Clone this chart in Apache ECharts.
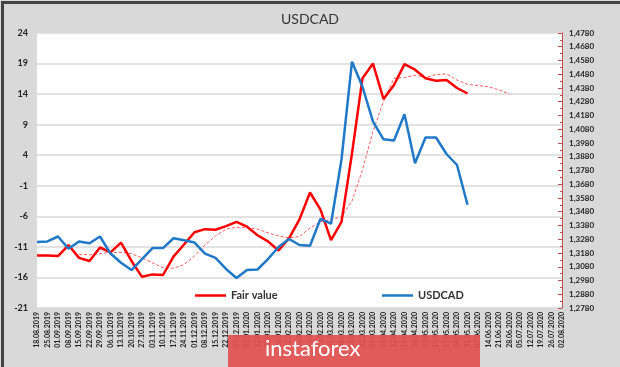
<!DOCTYPE html>
<html>
<head>
<meta charset="utf-8">
<script src="https://cdn.jsdelivr.net/npm/echarts@6/dist/echarts.min.js"></script>
<style>
html,body{margin:0;padding:0;background:#d9d9d9;}
#c{width:620px;height:367px;}
</style>
</head>
<body>
<div id="c"></div>
<script>
const dates = ['18.08.2019','25.08.2019','01.09.2019','08.09.2019','15.09.2019','22.09.2019','29.09.2019','06.10.2019','13.10.2019','20.10.2019','27.10.2019','03.11.2019','10.11.2019','17.11.2019','24.11.2019','01.12.2019','08.12.2019','15.12.2019','22.12.2019','29.12.2019','05.01.2020','12.01.2020','19.01.2020','26.01.2020','02.02.2020','09.02.2020','16.02.2020','23.02.2020','01.03.2020','08.03.2020','15.03.2020','22.03.2020','29.03.2020','05.04.2020','12.04.2020','19.04.2020','26.04.2020','03.05.2020','10.05.2020','17.05.2020','24.05.2020','31.05.2020','07.06.2020','14.06.2020','21.06.2020','28.06.2020','05.07.2020','12.07.2020','19.07.2020','26.07.2020','02.08.2020'];

const fairValue = [-12.4,-12.4,-12.5,-10.7,-12.8,-13.3,-11.1,-11.9,-10.3,-13.3,-15.9,-15.5,-15.6,-12.6,-10.6,-8.6,-8.1,-8.2,-7.6,-6.9,-7.7,-9.1,-10.1,-11.6,-9.6,-6.5,-2.1,-4.9,-9.9,-6.9,4.3,16.6,19.0,13.2,15.5,18.9,18.0,16.6,16.2,16.3,15.0,14.1];

const fairValueAvg = [null,null,null,null,-12.2,-12.3,-12.1,-11.9,-11.9,-12.1,-12.8,-13.6,-14.4,-14.5,-13.9,-12.5,-10.7,-9.2,-8.1,-7.8,-7.8,-8.1,-8.7,-9.2,-9.5,-9.3,-7.9,-6.9,-6.5,-6.1,-3.5,1.6,7.9,12.8,16.6,16.7,17.1,16.7,17.2,17.3,16.3,15.6,15.4,15.2,14.7,14.0];

const usdcad = [1.3260,1.3264,1.3300,1.3211,1.3264,1.3251,1.3300,1.3176,1.3109,1.3056,1.3136,1.3216,1.3216,1.3287,1.3273,1.3256,1.3176,1.3144,1.3064,1.2998,1.3056,1.3060,1.3136,1.3224,1.3282,1.3238,1.3233,1.3429,1.3393,1.3860,1.4571,1.4389,1.4136,1.4007,1.3998,1.4189,1.3833,1.4020,1.4020,1.3900,1.3820,1.3531];

const leftMin = -21, leftMax = 24;
const rightMin = 1.2780, rightMax = 1.4780;

const shiftL = v => v == null ? null : +(v - leftMin).toFixed(4);
const shiftR = v => v == null ? null : +((v - rightMin) * 100).toFixed(4);

const FONT = 'Lato';
const legendText = {fontFamily:FONT, fontSize:11, fontWeight:'bold', color:'#333'};
const chart = echarts.init(document.getElementById('c'), null, {renderer:'canvas'});
chart.setOption({
  animation:false,
  backgroundColor:'#d9d9d9',
  textStyle:{fontFamily:FONT},
  title:{text:'USDCAD', left:'center', top:7, textStyle:{fontFamily:FONT, fontSize:14, fontWeight:'normal', color:'#333'}},
  grid:{left:37, right:58, top:33, bottom:59, show:true, backgroundColor:'#ffffff', borderWidth:0},
  legend:[
    {data:['Fair value'], left:190, top:285, icon:'rect', itemWidth:31, itemHeight:2.5, itemGap:6, textStyle:legendText},
    {data:['USDCAD'], left:377, top:285, icon:'rect', itemWidth:31, itemHeight:2.5, itemGap:6, textStyle:legendText}
  ],
  xAxis:{
    type:'category', data:dates, boundaryGap:false,
    axisLine:{show:false}, axisTick:{show:false},
    axisLabel:{interval:0, rotate:90, fontSize:7, fontWeight:'bold', color:'#222', margin:4, fontFamily:FONT}
  },
  yAxis:[
    {type:'value', min:0, max:leftMax-leftMin, interval:5,
     axisLine:{show:false}, axisTick:{show:false},
     splitLine:{lineStyle:{color:'#d9d9d9', width:1.5}},
     axisLabel:{formatter:v=>String(v+leftMin), fontSize:9, fontWeight:'bold', color:'#222', margin:9, fontFamily:FONT}},
    {type:'value', min:0, max:(rightMax-rightMin)*100, interval:1, position:'right',
     axisLine:{show:true, lineStyle:{color:'#c0504d', width:1}},
     axisTick:{show:true, inside:true, length:4, lineStyle:{color:'#c0504d'}},
     minorTick:{show:true, splitNumber:2, length:2, lineStyle:{color:'#c0504d'}},
     splitLine:{show:false},
     axisLabel:{formatter:v=>(rightMin + v/100).toFixed(4).replace('.', ','), fontSize:8, fontWeight:'bold', color:'#222', margin:7, fontFamily:FONT}}
  ],
  series:[
    {name:'Fair value', type:'line', yAxisIndex:0, data:fairValue.map(shiftL), symbol:'none',
     lineStyle:{color:'#ff0000', width:2.5}, itemStyle:{color:'#ff0000'}, z:3},
    {name:'Fair value avg', type:'line', yAxisIndex:0, data:fairValueAvg.map(shiftL), symbol:'none',
     lineStyle:{color:'#ff5a5a', width:1, type:[3,2]}, itemStyle:{color:'#ff5a5a'}, z:2},
    {name:'USDCAD', type:'line', yAxisIndex:1, data:usdcad.map(shiftR), symbol:'none',
     lineStyle:{color:'#1f78c8', width:2.5}, itemStyle:{color:'#1f78c8'}, z:4}
  ],
  graphic:[
    {type:'rect', left:0, top:0, shape:{width:620, height:367}, style:{fill:'none', stroke:'#444', lineWidth:3}, silent:true, z:100},
    {type:'rect', left:228, top:335, shape:{width:252, height:32}, style:{fill:'rgba(226,80,80,0.92)'}, z:101},
    {type:'text', left:265, top:338, style:{text:'instaforex', fill:'#ffffff', font:'22px Lato'}, z:102}
  ]
});
</script>
</body>
</html>
